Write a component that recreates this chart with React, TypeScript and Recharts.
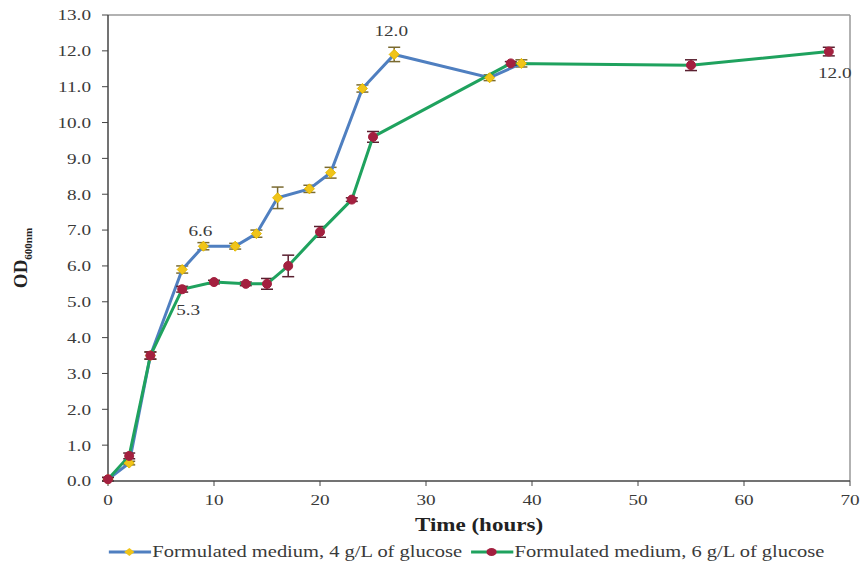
import {
  LineChart,
  Line,
  XAxis,
  YAxis,
  ErrorBar,
  LabelList,
  Legend,
  ReferenceLine,
} from "recharts";

// sampling times (hours) and OD600 readings
const hours4 = [0, 2, 4, 7, 9, 12, 14, 16, 19, 21, 24, 27, 36, 39];
const od4 = [0.05, 0.5, 3.5, 5.9, 6.55, 6.55, 6.9, 7.9, 8.15, 8.6, 10.95, 11.9, 11.25, 11.65];
const err4 = [0.05, 0.05, 0.1, 0.1, 0.1, 0.08, 0.1, 0.3, 0.1, 0.15, 0.1, 0.2, 0.08, 0.1];
const labels4 = ["", "", "", "", "6.6", "", "", "", "", "", "", "12.0", "", ""];

const hours6 = [0, 2, 4, 7, 10, 13, 15, 17, 20, 23, 25, 38, 55, 68];
const od6 = [0.05, 0.7, 3.5, 5.35, 5.55, 5.5, 5.5, 6.0, 6.95, 7.85, 9.6, 11.65, 11.6, 11.98];
const err6 = [0.05, 0.08, 0.1, 0.08, 0.05, 0.05, 0.15, 0.3, 0.15, 0.05, 0.15, 0.05, 0.15, 0.12];
const labels6 = ["", "", "", "5.3", "", "", "", "", "", "", "", "", "", "12.0"];

const yTicks = [0, 1, 2, 3, 4, 5, 6, 7, 8, 9, 10, 11, 12, 13];
const xTicks = [0, 10, 20, 30, 40, 50, 60, 70];

const name4 = "Formulated medium, 4 g/L of glucose";
const name6 = "Formulated medium, 6 g/L of glucose";

const data4 = hours4.map((t, i) => ({ t, od: od4[i], err: err4[i], label: labels4[i] }));
const data6 = hours6.map((t, i) => ({ t, od: od6[i], err: err6[i], label: labels6[i] }));

const FONT = "'Liberation Serif', 'Times New Roman', serif";
const BLUE = "#4F7FC0";
const GREEN = "#1FA25E";
const YELLOW = "#F0C419";
const RED = "#A3203F";
const TEXT = "#3a3a3a";
const SX = 1.28; // the source figure is stretched sideways

const Diamond = (props: any) => {
  const { cx, cy } = props;
  if (cx == null || cy == null) return null;
  return (
    <path
      d={`M${cx},${cy - 5} L${cx + 5},${cy} L${cx},${cy + 5} L${cx - 5},${cy} Z`}
      fill={YELLOW}
      stroke="#E3B800"
      strokeWidth={1}
    />
  );
};

const Dot = (props: any) => {
  const { cx, cy } = props;
  if (cx == null || cy == null) return null;
  return <circle cx={cx} cy={cy} r={4.5} fill={RED} stroke={RED} />;
};

const YTick = (props: any) => {
  const { x, y, payload } = props;
  return (
    <text
      transform={`translate(${x - 9},${y}) scale(${SX},1)`}
      textAnchor="end"
      dy="0.36em"
      fontFamily={FONT}
      fontSize={15}
      fill={TEXT}
    >
      {payload.value.toFixed(1)}
    </text>
  );
};

const XTick = (props: any) => {
  const { x, y, payload } = props;
  return (
    <text
      transform={`translate(${x},${y + 6}) scale(${SX},1)`}
      textAnchor="middle"
      dy="0.71em"
      fontFamily={FONT}
      fontSize={15}
      fill={TEXT}
    >
      {payload.value}
    </text>
  );
};

const ValueLabel = (dy: number, dx: number) => (props: any) => {
  const { x, y, value, index } = props;
  if (!value) return null;
  const extra = dy < 0 && index === 11 ? -8 : 0;
  return (
    <text
      transform={`translate(${x + dx},${y + dy + extra}) scale(${SX},1)`}
      textAnchor="middle"
      fontFamily={FONT}
      fontSize={15}
      fill={TEXT}
    >
      {value}
    </text>
  );
};

const XLabel = (props: any) => {
  const { viewBox } = props;
  const cx = viewBox.x + viewBox.width / 2;
  return (
    <text
      transform={`translate(${cx},${viewBox.y + 50}) scale(${SX},1)`}
      textAnchor="middle"
      fontFamily={FONT}
      fontSize={18}
      fontWeight="bold"
      fill="#222"
    >
      Time (hours)
    </text>
  );
};

const YLabel = () => (
  <text
    transform="translate(27,258) rotate(-90)"
    textAnchor="middle"
    fontFamily={FONT}
    fontWeight="bold"
    fill="#222"
  >
    <tspan fontSize={19}>OD</tspan>
    <tspan fontSize={11} dy={5}>600nm</tspan>
  </text>
);

const LegendContent = () => {
  const items = [
    { name: name4, line: BLUE, marker: "diamond" },
    { name: name6, line: GREEN, marker: "circle" },
  ];
  return (
    <div
      style={{
        display: "flex",
        justifyContent: "center",
        gap: 6,
        fontFamily: FONT,
        fontSize: 16,
        color: TEXT,
        paddingLeft: 64,
        transform: `scaleX(${SX})`,
        transformOrigin: "center",
      }}
    >
      {items.map((it) => (
        <div key={it.name} style={{ display: "flex", alignItems: "center" }}>
          <svg width={35} height={14}>
            <line x1={1} y1={7} x2={34} y2={7} stroke={it.line} strokeWidth={3} />
            {it.marker === "diamond" ? (
              <path d="M17,3 L21,7 L17,11 L13,7 Z" fill={YELLOW} />
            ) : (
              <circle cx={17} cy={7} r={4} fill={RED} />
            )}
          </svg>
          <span>{it.name}</span>
        </div>
      ))}
    </div>
  );
};

export default function App() {
  return (
    <div style={{ position: "absolute", left: 0, top: 0, background: "#fff" }}>
      <LineChart
        width={861}
        height={572}
        margin={{ top: 15, right: 11, bottom: 0, left: 0 }}
      >
        <XAxis
          type="number"
          dataKey="t"
          domain={[0, 70]}
          ticks={xTicks}
          height={62}
          axisLine={{ stroke: "#444", strokeWidth: 1.5 }}
          tickLine={{ stroke: "#444" }}
          tickSize={5}
          tick={<XTick />}
          label={<XLabel />}
          allowDuplicatedCategory={false}
        />
        <YAxis
          type="number"
          domain={[0, 13]}
          ticks={yTicks}
          width={108}
          interval={0}
          axisLine={{ stroke: "#444", strokeWidth: 1.5 }}
          tickLine={{ stroke: "#444" }}
          tickSize={6}
          tick={<YTick />}
          label={<YLabel />}
        />
        <ReferenceLine y={13} stroke="#999" strokeWidth={1.5} />
        <ReferenceLine x={70} stroke="#999" strokeWidth={1.5} />
        <Legend verticalAlign="bottom" height={29} content={<LegendContent />} />
        <Line
          data={data4}
          dataKey="od"
          name={name4}
          type="linear"
          stroke={BLUE}
          strokeWidth={3}
          dot={<Diamond />}
          isAnimationActive={false}
        >
          <ErrorBar dataKey="err" direction="y" width={6} stroke="#7A6A30" strokeWidth={1.5} />
          <LabelList dataKey="label" content={ValueLabel(-10, -3)} />
        </Line>
        <Line
          data={data6}
          dataKey="od"
          name={name6}
          type="linear"
          stroke={GREEN}
          strokeWidth={3}
          dot={<Dot />}
          isAnimationActive={false}
        >
          <ErrorBar dataKey="err" direction="y" width={6} stroke="#5A2030" strokeWidth={1.5} />
          <LabelList dataKey="label" content={ValueLabel(26, 6)} />
        </Line>
      </LineChart>
    </div>
  );
}
